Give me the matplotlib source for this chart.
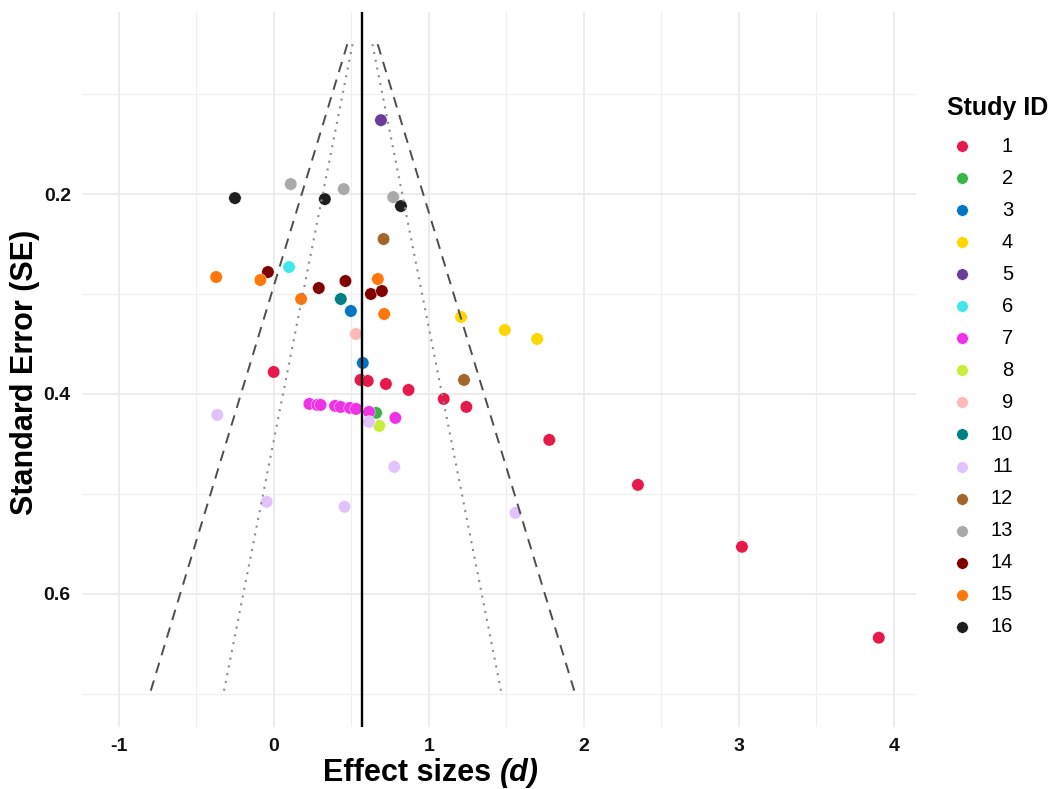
import matplotlib
matplotlib.use("Agg")
import matplotlib.pyplot as plt
from matplotlib.lines import Line2D
import numpy as np

plt.rcParams['font.family'] = ['Liberation Sans', 'DejaVu Sans']

# ---- data ----
study_ids = list(range(1, 17))
study_colors = ['#E6194B', '#3CB44B', '#0077C0', '#FFD700', '#6A3D9A', '#42E8E8',
                '#F032E6', '#C8EE3A', '#FBBAB8', '#008080', '#E2C2FB', '#A1662B',
                '#A9A9A9', '#800000', '#FF760A', '#1E1E1E']

effect_d = [
    # study 1
    -0.002, 0.558, 0.605, 0.722, 0.868, 1.095, 1.241, 1.776, 2.348, 3.019, 3.902,
    # study 2
    0.659,
    # study 3
    0.496, 0.573,
    # study 4
    1.207, 1.489, 1.698,
    # study 5
    0.690,
    # study 6
    0.097,
    # study 7
    0.228, 0.279, 0.301, 0.394, 0.430, 0.490, 0.529, 0.613, 0.783,
    # study 8
    0.679,
    # study 9
    0.528,
    # study 10
    0.431,
    # study 11
    -0.366, 0.613, 0.776, -0.047, 0.455, 1.558,
    # study 12
    0.707, 1.226,
    # study 13
    0.108, 0.450, 0.769,
    # study 14
    -0.039, 0.289, 0.461, 0.625, 0.696,
    # study 15
    -0.373, -0.088, 0.670, 0.175, 0.711,
    # study 16
    -0.252, 0.328, 0.819,
]
std_err = [
    0.378, 0.386, 0.387, 0.390, 0.396, 0.405, 0.413, 0.446, 0.491, 0.553, 0.644,
    0.419,
    0.317, 0.369,
    0.323, 0.336, 0.345,
    0.126,
    0.273,
    0.410, 0.411, 0.411, 0.412, 0.413, 0.414, 0.415, 0.418, 0.424,
    0.432,
    0.340,
    0.305,
    0.421, 0.428, 0.473, 0.508, 0.513, 0.519,
    0.245, 0.386,
    0.190, 0.195, 0.203,
    0.278, 0.294, 0.287, 0.300, 0.297,
    0.283, 0.286, 0.285, 0.305, 0.320,
    0.204, 0.205, 0.212,
]
point_study = ([1] * 11 + [2] + [3] * 2 + [4] * 3 + [5] + [6] + [7] * 9 + [8] + [9] + [10]
               + [11] * 6 + [12] * 2 + [13] * 3 + [14] * 5 + [15] * 5 + [16] * 3)

pooled_d = 0.571
funnel_se = [0.05, 0.70]
z_outer = 1.96
z_inner = 1.282

x_ticks = [-1, 0, 1, 2, 3, 4]
y_ticks = [0.2, 0.4, 0.6]

# ---- figure ----
fig = plt.figure(figsize=(10.63, 7.89), dpi=100)
ax = fig.add_axes([0.0771, 0.079, 0.8617 - 0.0771, 0.985 - 0.079])

ax.set_xlim(-1.239, 4.142)
ax.set_ylim(0.733, 0.0176)

ax.set_xticks(x_ticks)
ax.set_xticklabels([str(t) for t in x_ticks])
ax.set_xticks([-0.5, 0.5, 1.5, 2.5, 3.5], minor=True)
ax.set_yticks(y_ticks)
ax.set_yticklabels([f"{t:.1f}" for t in y_ticks])
ax.set_yticks([0.1, 0.3, 0.5, 0.7], minor=True)

ax.grid(True, which='major', color='#EBEBEB', linewidth=1.3, zorder=0)
ax.grid(True, which='minor', color='#EFEFEF', linewidth=0.9, zorder=0)
ax.set_axisbelow(True)
for s in ax.spines.values():
    s.set_visible(False)
ax.tick_params(which='both', length=0)
ax.tick_params(axis='x', pad=8, labelsize=14)
ax.tick_params(axis='y', pad=8, labelsize=14)
for lab in ax.get_xticklabels() + ax.get_yticklabels():
    lab.set_fontweight('bold')
    lab.set_color('#111111')

# points
cols = [study_colors[study_ids.index(s)] for s in point_study]
ax.scatter(effect_d, std_err, s=80, c=cols, edgecolors='white', linewidths=0.3, zorder=2)

# funnel lines
se_arr = np.array(funnel_se)
for sign in (-1, 1):
    ax.plot(pooled_d + sign * z_outer * se_arr, se_arr, color='#4D4D4D', lw=1.4,
            linestyle=(0, (5.5, 4)), zorder=3)
    ax.plot(pooled_d + sign * z_inner * se_arr, se_arr, color='#8C8C8C', lw=1.5,
            linestyle=(0, (1, 2.8)), zorder=3)
ax.axvline(pooled_d, color='black', lw=1.7, zorder=3)

# axis titles
fig.text(500 / 1063, 1 - 773 / 789, 'Effect sizes ', ha='right', va='center',
         fontsize=22, fontweight='bold')
fig.text(500 / 1063, 1 - 773 / 789, '(d)', ha='left', va='center',
         fontsize=22, fontweight='bold', fontstyle='italic')
fig.text(25 / 1063, 1 - 372 / 789, 'Standard Error (SE)', ha='center', va='center',
         rotation=90, fontsize=22, fontweight='bold')

# legend (manual)
fig.text(998 / 1063, 1 - 108 / 789, 'Study ID', ha='center', va='center',
         fontsize=18, fontweight='bold')
for i, (sid, col) in enumerate(zip(study_ids, study_colors)):
    yy = 1 - (146 + i * 32.05) / 789
    fig.add_artist(Line2D([962 / 1063], [yy], marker='o', markersize=8.3,
                          markerfacecolor=col, markeredgecolor='white',
                          markeredgewidth=0.3, linestyle='None',
                          transform=fig.transFigure))
    fig.text(1013 / 1063, yy, str(sid), ha='right', va='center', fontsize=14.5)

fig.savefig('out.png', dpi=100, facecolor='white')
